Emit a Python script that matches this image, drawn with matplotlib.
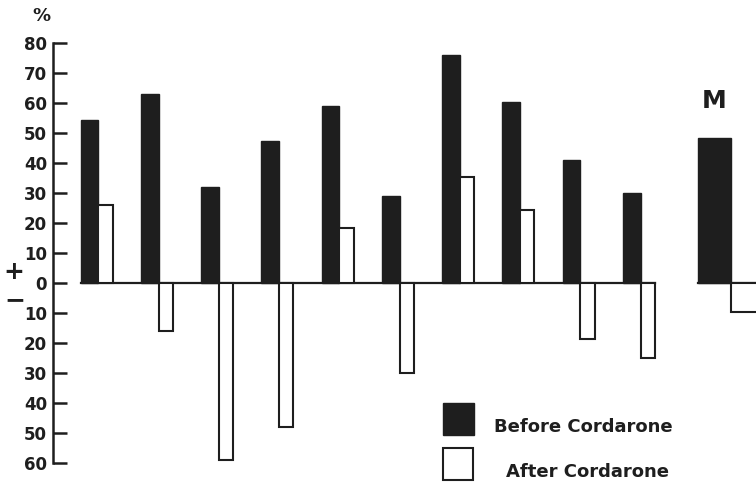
import matplotlib
matplotlib.use("Agg")
import matplotlib.pyplot as plt
import numpy as np
from matplotlib.patches import Rectangle

# Data (percent change)
before = [54.5, 63, 32, 47.5, 59, 29, 76, 60.5, 41, 30]
after = [26, -16, -59, -48, 18.5, -30, 35.5, 24.5, -18.5, -25]
mean_before = 48.5
mean_after = -9.5
yticks = list(range(-60, 81, 10))
ytick_labels = [str(abs(v)) for v in yticks]
legend_labels = ["Before Cordarone", "After Cordarone"]

DARK = "#1e1e1e"
fig = plt.figure(figsize=(7.56, 4.83), dpi=100)
ax = fig.add_axes([52.7 / 756, 1 - 463 / 483, 1 - 52.7 / 756, (463 - 43) / 483])
ax.set_xlim(-0.465, 11.21)
ax.set_ylim(-60, 80)

bw, ww = 0.294, 0.236
x = np.arange(len(before))
ax.bar(x, before, width=bw, align="edge", color=DARK, edgecolor=DARK, linewidth=1.0, zorder=3)
ax.bar(x + bw, after, width=ww, align="edge", color="white", edgecolor=DARK, linewidth=1.5, zorder=3)
ax.plot([x[0], x[-1] + bw + ww], [0, 0], color=DARK, lw=1.6, zorder=2)

mx, mw = 10.25, 0.543
ax.bar([mx], [mean_before], width=mw, align="edge", color=DARK, edgecolor=DARK, linewidth=1.0, zorder=3)
ax.bar([mx + mw], [mean_after], width=mw, align="edge", color="white", edgecolor=DARK, linewidth=1.5, zorder=3)
ax.plot([mx, mx + 2 * mw], [0, 0], color=DARK, lw=1.6, zorder=2)
ax.text(mx + mw / 2, 60.5, "M", ha="center", va="center", fontsize=18, fontweight="bold", color=DARK)

for s in ["top", "right", "bottom"]:
    ax.spines[s].set_visible(False)
ax.spines["left"].set_linewidth(1.8)
ax.spines["left"].set_color(DARK)
ax.set_yticks(yticks)
ax.set_yticklabels(ytick_labels, fontsize=12, fontweight="bold", color=DARK)
ax.tick_params(axis="y", direction="in", length=10, width=1.8, pad=4, color=DARK)
ax.set_xticks([])

fig.text(41 / 756, 1 - 16 / 483, "%", ha="center", va="center", fontsize=13, fontweight="bold", color=DARK)
fig.text(14 / 756, 1 - 272 / 483, "+", ha="center", va="center", fontsize=18, fontweight="bold", color=DARK)
fig.text(15 / 756, 1 - 300 / 483, "\u2212", ha="center", va="center", fontsize=18, fontweight="bold", color=DARK)

# legend
fig.patches.append(Rectangle((443 / 756, 1 - 435 / 483), 31 / 756, 32 / 483, transform=fig.transFigure,
                             facecolor=DARK, edgecolor=DARK, lw=1.0))
fig.patches.append(Rectangle((443 / 756, 1 - 480 / 483), 30 / 756, 32 / 483, transform=fig.transFigure,
                             facecolor="white", edgecolor=DARK, lw=1.5))
fig.text(494 / 756, 1 - 427 / 483, legend_labels[0], ha="left", va="center", fontsize=13, fontweight="bold", color=DARK)
fig.text(506 / 756, 1 - 472 / 483, legend_labels[1], ha="left", va="center", fontsize=13, fontweight="bold", color=DARK)

fig.savefig("out.png", dpi=100)
